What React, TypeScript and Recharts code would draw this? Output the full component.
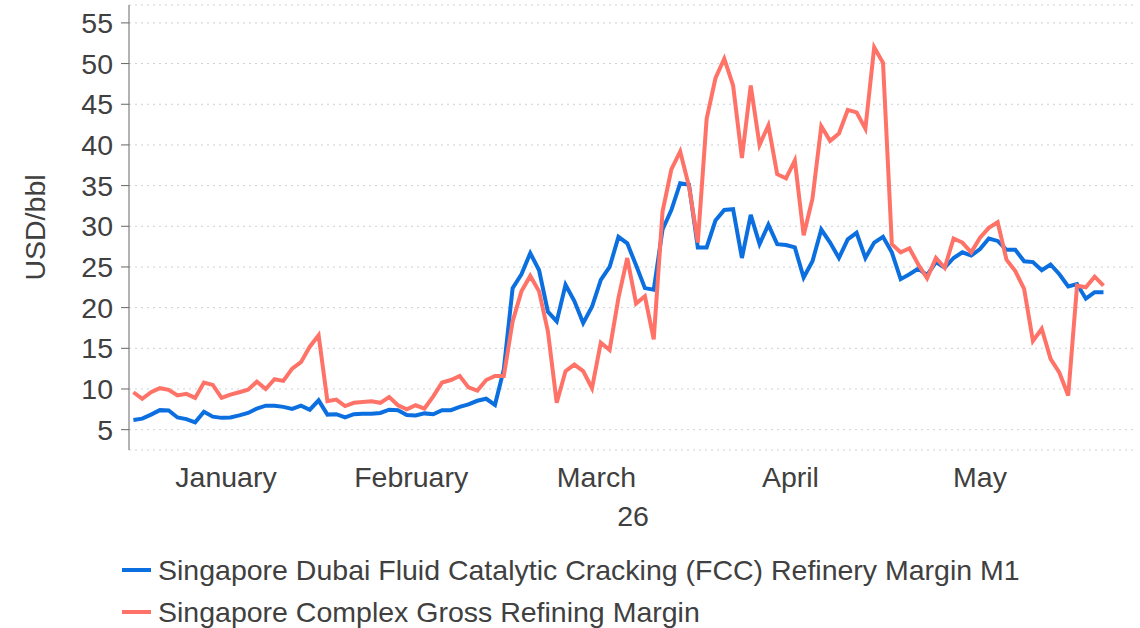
import { LineChart, Line, XAxis, YAxis, CartesianGrid, Legend } from 'recharts';

const monthNames = ['January', 'February', 'March', 'April', 'May'];
const monthBusinessDays = [22, 20, 22, 22, 21];
const yearLabel = '26';
const yTicks = [5, 10, 15, 20, 25, 30, 35, 40, 45, 50, 55];

const fccName = 'Singapore Dubai Fluid Catalytic Cracking (FCC) Refinery Margin M1';
const complexName = 'Singapore Complex Gross Refining Margin';

// one value per business day, Jan 2 .. Jun 4
const fccMargin = [
  6.2, 6.35, 6.85, 7.4, 7.35, 6.5, 6.3, 5.9, 7.2, 6.6, 6.45, 6.5, 6.75, 7.05, 7.6, 7.95, 7.95, 7.8, 7.55, 7.95, 7.45, 8.6,
  6.85, 6.9, 6.5, 6.9, 6.95, 6.95, 7.05, 7.45, 7.4, 6.8, 6.75, 7.0, 6.9, 7.4, 7.4, 7.8, 8.1, 8.55, 8.8, 8.05,
  12.4, 22.4, 24.1, 26.7, 24.6, 19.5, 18.3, 22.8, 20.8, 18.1, 20.1, 23.4, 25.0, 28.7, 27.9, 25.2, 22.4, 22.2, 29.6, 32.0, 35.3, 35.1,
  27.4, 27.4, 30.7, 32.0, 32.1, 26.1, 31.4, 27.8, 30.2, 27.8, 27.7, 27.4, 23.7, 25.7, 29.6, 28.0, 26.1, 28.4, 29.2, 26.1, 28.0, 28.7,
  26.8, 23.5, 24.1, 24.8, 24.0, 25.6, 24.9, 26.1, 26.8, 26.4, 27.2, 28.5, 28.2, 27.1, 27.1, 25.7, 25.6, 24.6, 25.3, 24.1, 22.6,
  22.9, 21.1, 21.9, 21.9,
];

const complexMargin = [
  9.6, 8.8, 9.6, 10.1, 9.9, 9.2, 9.4, 8.9, 10.8, 10.5, 8.9, 9.3, 9.6, 9.9, 10.9, 10.0, 11.2, 11.0, 12.5, 13.3, 15.2, 16.6,
  8.5, 8.7, 7.9, 8.3, 8.4, 8.5, 8.3, 9.0, 8.0, 7.5, 8.0, 7.6, 9.1, 10.8, 11.1, 11.6, 10.2, 9.8, 11.1, 11.6,
  11.6, 18.3, 22.0, 23.9, 22.0, 17.1, 8.3, 12.2, 13.0, 12.2, 10.1, 15.7, 14.8, 21.2, 26.1, 20.5, 21.4, 16.1, 31.8, 37.0, 39.2, 34.9,
  28.0, 43.2, 48.2, 50.6, 47.3, 38.4, 47.3, 40.0, 42.4, 36.4, 35.9, 38.1, 28.9, 33.4, 42.3, 40.5, 41.4, 44.3, 44.0, 42.0, 52.0, 50.1,
  27.8, 26.8, 27.3, 25.3, 23.6, 26.1, 24.9, 28.5, 28.0, 26.8, 28.6, 29.8, 30.5, 25.9, 24.5, 22.3, 15.9, 17.4, 13.7, 12.0, 9.2,
  22.7, 22.5, 23.8, 22.7,
];

const BLUE = '#0b6fe0';
const RED = '#ff7268';
const TEXT = '#404040';
const AXIS = '#666666';
const FONT = '"Liberation Sans", Arial, sans-serif';
const FS = 28.5;

const data = fccMargin.map((v, i) => ({ x: i + 0.5, fcc: v, complex: complexMargin[i] }));

const monthStarts = [0];
monthBusinessDays.forEach((d, i) => monthStarts.push(monthStarts[i] + d));
const monthMids = monthBusinessDays.map((d, i) => monthStarts[i] + d / 2);
const xDomain = [0, 114.3];

const LegendRows = () => (
  <div style={{ fontFamily: FONT, fontSize: FS, color: TEXT }}>
    {[
      [fccName, BLUE],
      [complexName, RED],
    ].map(([name, color]) => (
      <div key={name} style={{ display: 'flex', alignItems: 'center', height: 42, whiteSpace: 'nowrap' }}>
        <span style={{ display: 'inline-block', width: 29, height: 4, background: color, marginRight: 7 }} />
        <span>{name}</span>
      </div>
    ))}
  </div>
);

const App = () => {
  return (
    <div style={{ fontFamily: FONT }}>
      <style>{'body{margin:0}'}</style>
      <LineChart width={1140} height={628} data={data} margin={{ top: 5, right: 3, bottom: 98, left: 0 }}>
        <CartesianGrid vertical={false} stroke='#c8d2d9' strokeDasharray='2 4' xAxisId='days' />
        <XAxis
          xAxisId='days'
          dataKey='x'
          type='number'
          domain={xDomain}
          ticks={monthStarts}
          tickFormatter={() => ''}
          interval={0}
          height={0}
          tickSize={7}
          stroke={AXIS}
          allowDataOverflow
        />
        <XAxis
          xAxisId='months'
          dataKey='x'
          type='number'
          domain={xDomain}
          ticks={monthMids}
          tickFormatter={(v) => monthNames[monthMids.indexOf(v)]}
          interval={0}
          axisLine={false}
          tickLine={false}
          tickSize={0}
          tickMargin={17}
          height={80}
          tick={{ fill: TEXT, fontSize: FS, fontFamily: FONT }}
          label={{ value: yearLabel, position: 'insideBottom', offset: 4, fill: TEXT, fontSize: FS, fontFamily: FONT }}
          allowDataOverflow
        />
        <YAxis
          domain={[2.5, 57.2]}
          ticks={yTicks}
          width={129}
          tickSize={8}
          tickMargin={8}
          stroke={AXIS}
          interval={0}
          allowDataOverflow
          tick={{ fill: TEXT, fontSize: FS, fontFamily: FONT }}
          label={{
            value: 'USD/bbl',
            angle: -90,
            position: 'insideLeft',
            offset: 35,
            fill: TEXT,
            fontSize: FS,
            fontFamily: FONT,
            style: { textAnchor: 'middle' },
          }}
        />
        <Line
          xAxisId='days'
          dataKey='fcc'
          name={fccName}
          type='linear'
          stroke={BLUE}
          strokeWidth={4}
          dot={false}
          isAnimationActive={false}
        />
        <Line
          xAxisId='days'
          dataKey='complex'
          name={complexName}
          type='linear'
          stroke={RED}
          strokeWidth={4}
          dot={false}
          isAnimationActive={false}
        />
        <Legend
          layout='horizontal'
          verticalAlign='middle'
          align='center'
          wrapperStyle={{ top: 549, left: 122, width: 1000 }}
          content={<LegendRows />}
        />
      </LineChart>
    </div>
  );
};

export default App;
